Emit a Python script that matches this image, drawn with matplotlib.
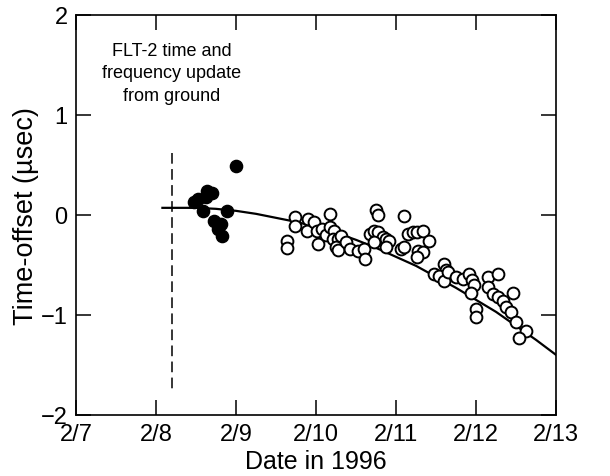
import matplotlib
matplotlib.use("Agg")
import matplotlib.pyplot as plt

plt.rcParams['font.family'] = ['Liberation Sans', 'DejaVu Sans']

# Filled dots (before / around ground update)
filled_x = [8.47, 8.52, 8.62, 8.64, 8.70, 8.59, 8.72, 8.81, 8.77, 8.83, 8.89, 9.00]
filled_y = [0.13, 0.16, 0.18, 0.24, 0.22, 0.04, -0.06, -0.09, -0.14, -0.21, 0.04, 0.49]

# Open circles
open_x = [9.64, 9.64, 9.74, 9.74, 9.90, 9.89, 9.97, 10.01, 10.02, 10.08, 10.12,
          10.18, 10.18, 10.23, 10.21, 10.27, 10.25, 10.28, 10.31, 10.37, 10.43,
          10.52, 10.60, 10.61, 10.68, 10.72, 10.78, 10.84, 10.72, 10.75, 10.77,
          10.87, 10.91, 10.87, 11.06, 11.10, 11.15, 11.21, 11.26, 11.34, 11.41,
          11.10, 11.27, 11.34, 11.26, 11.60, 11.62, 11.47, 11.54, 11.60, 11.65,
          11.75, 11.84, 11.91, 11.95, 11.97, 11.94, 12.00, 12.00, 12.15, 12.27,
          12.15, 12.21, 12.27, 12.34, 12.46, 12.37, 12.44, 12.50, 12.63, 12.54]
open_y = [-0.26, -0.33, -0.02, -0.11, -0.04, -0.16, -0.07, -0.16, -0.29, -0.14, -0.20,
          0.01, -0.12, -0.16, -0.24, -0.24, -0.32, -0.35, -0.21, -0.27, -0.34,
          -0.36, -0.34, -0.44, -0.19, -0.16, -0.17, -0.22, -0.27, 0.05, 0.00,
          -0.24, -0.26, -0.32, -0.34, -0.01, -0.19, -0.17, -0.17, -0.16, -0.26,
          -0.32, -0.36, -0.37, -0.42, -0.49, -0.55, -0.59, -0.61, -0.66, -0.57,
          -0.62, -0.64, -0.59, -0.65, -0.70, -0.78, -0.94, -1.02, -0.62, -0.59,
          -0.72, -0.79, -0.82, -0.86, -0.78, -0.92, -0.97, -1.07, -1.16, -1.23]

# Fitted curve
fit_x = [8.08, 8.25, 8.5, 8.75, 9.0, 9.25, 9.5, 9.75, 10.0, 10.25, 10.5, 10.75,
         11.0, 11.25, 11.5, 11.75, 12.0, 12.25, 12.5, 12.75, 13.0]
fit_y = [0.07, 0.07, 0.07, 0.06, 0.04, 0.01, -0.03, -0.07, -0.12, -0.18, -0.25, -0.33,
         -0.42, -0.51, -0.62, -0.73, -0.85, -0.97, -1.11, -1.25, -1.40]

update_x = 8.2
update_y = [0.62, -1.78]

x_ticks = [7, 8, 9, 10, 11, 12, 13]
x_labels = ['2/7', '2/8', '2/9', '2/10', '2/11', '2/12', '2/13']
y_ticks = [-2, -1, 0, 1, 2]
y_labels = ['\u22122', '\u22121', '0', '1', '2']

fig = plt.figure(figsize=(6.10, 4.77), dpi=100)
ax = fig.add_axes([0.1246, 0.128, 0.787, 0.839])

ax.plot(fit_x, fit_y, color='black', lw=1.6, zorder=2)
ax.plot([update_x, update_x], update_y, color='black', lw=1.1,
        linestyle=(0, (7, 3.5)), zorder=1)
ax.plot(open_x, open_y, linestyle='none', marker='o', markersize=8.5,
        markerfacecolor='white', markeredgecolor='black', markeredgewidth=1.4, zorder=3)
ax.plot(filled_x, filled_y, linestyle='none', marker='o', markersize=8.8,
        color='black', zorder=4)

ax.text(update_x, 1.42, 'FLT-2 time and\nfrequency update\nfrom ground',
        ha='center', va='center', fontsize=13, linespacing=1.42)

ax.set_xlim(7, 13)
ax.set_ylim(-2, 2)
ax.set_xticks(x_ticks)
ax.set_xticklabels(x_labels)
ax.set_yticks(y_ticks)
ax.set_yticklabels(y_labels)
ax.tick_params(direction='in', top=True, right=True, length=11, width=1.1,
               labelsize=17, pad=6)
for s in ax.spines.values():
    s.set_linewidth(1.2)

ax.set_xlabel('Date in 1996', fontsize=18, labelpad=3)
ax.set_ylabel('Time-offset (\u00b5sec)', fontsize=19.5, labelpad=1)

fig.savefig('out.png', dpi=100)
